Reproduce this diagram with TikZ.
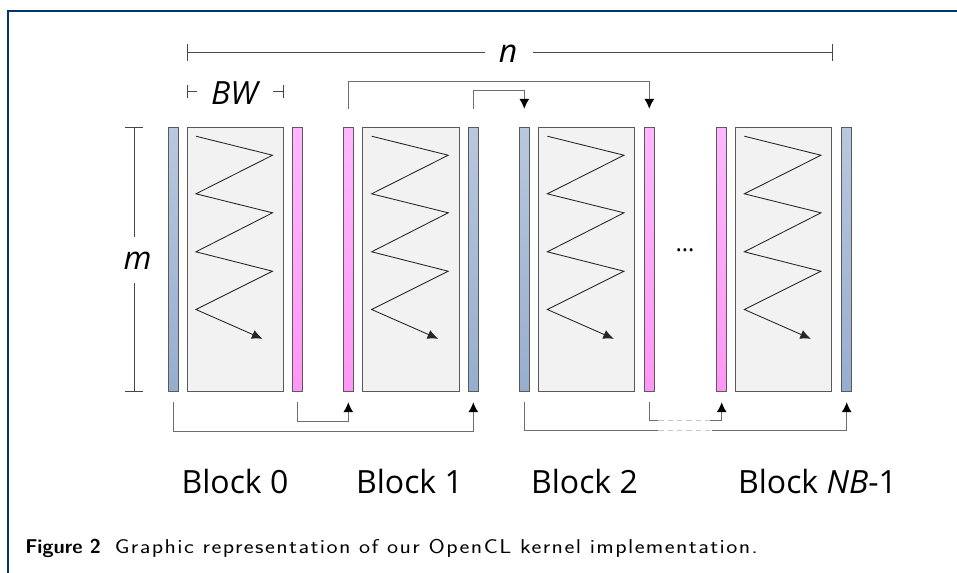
\documentclass[tikz,border=0pt]{standalone}
\usepackage{fontspec}
\setmainfont{Open Sans}
\newfontfamily\captionfont[LetterSpace=6]{Latin Modern Sans}
\usetikzlibrary{arrows.meta}
\definecolor{framec}{RGB}{0,56,107}
\definecolor{blueTop}{RGB}{184,200,222}
\definecolor{blueBot}{RGB}{150,174,206}
\definecolor{pinkTop}{RGB}{255,184,255}
\definecolor{pinkBot}{RGB}{255,150,245}
\definecolor{panel}{RGB}{242,242,242}
\definecolor{edge}{RGB}{90,90,90}
\definecolor{connc}{RGB}{110,110,110}
\definecolor{dashc}{RGB}{200,200,200}
\definecolor{dimc}{RGB}{70,70,70}

\tikzset{
  bar/.style={draw=edge, line width=0.75pt, inner sep=0pt,
    minimum width=7.5pt, minimum height=198.5pt},
  bluebar/.style={bar, top color=blueTop, bottom color=blueBot},
  pinkbar/.style={bar, top color=pinkTop, bottom color=pinkBot},
  panelbox/.style={draw=edge, line width=0.75pt, fill=panel, inner sep=0pt,
    minimum width=72.4pt, minimum height=198.5pt},
  zigline/.style={draw=black!85, line width=0.65pt,
    -{Latex[length=8pt,width=7pt]}},
  conn/.style={draw=connc, line width=0.75pt},
  connarrow/.style={conn, -{Latex[length=7.5pt,width=7.5pt,color=black]}},
  dashconn/.style={draw=dashc, line width=0.75pt, dash pattern=on 4pt off 3pt},
  dimline/.style={draw=dimc, line width=0.75pt},
  lbl/.style={inner sep=0pt, font=\fontsize{24}{28}\selectfont},
}

% zigzag traversal inside a block panel
\newcommand\zigpath[1]{%
  \draw[zigline] ([shift={(9.4,9.4)}]#1.north west)
    -- ++(76.6,19) -- ++(-76.6,38.6) -- ++(76.6,19) -- ++(-76.6,39)
    -- ++(76.6,19.4) -- ++(-76.6,38.3) -- ++(66.6,29.3);}

\begin{document}
\begin{tikzpicture}[x=0.75pt, y=-0.75pt]
\useasboundingbox (0,0) rectangle (957,573);

% frame
\draw[framec, line width=1.5pt] (8,573) -- (8,11) -- (957,11);

% blocks
\node[bluebar]  (b0) at (173,259.65) {};
\node[panelbox] (r0) at (235.3,259.65) {};
\node[pinkbar]  (p0) at (297.7,259.65) {};

\node[pinkbar]  (p1) at (348.3,259.65) {};
\node[panelbox] (r1) at (411,259.65) {};
\node[bluebar]  (b1) at (473.3,259.65) {};

\node[bluebar]  (b2) at (524.3,259.65) {};
\node[panelbox] (r2) at (586.7,259.65) {};
\node[pinkbar]  (p2) at (649.3,259.65) {};

\node[pinkbar]  (p3) at (721.7,259.65) {};
\node[panelbox] (r3) at (783.7,259.65) {};
\node[bluebar]  (b3) at (846.7,259.65) {};

\zigpath{r0}
\zigpath{r1}
\zigpath{r2}
\zigpath{r3}

\node[lbl] (dots) at (685,250.7) {\fontsize{18}{20}\selectfont …};

% top transfers
\draw[connarrow] ([yshift=13.5pt]p1.north) -- ++(0,-27.6) -| ([yshift=13.5pt]p2.north);
\draw[connarrow] ([yshift=13.5pt]b1.north) -- ++(0,-18.3) -| ([yshift=13.5pt]b2.north);

% bottom transfers
\draw[connarrow] ([yshift=-7.3pt]p0.south) -- ++(0,19.3) -| ([yshift=-7.3pt]p1.south);
\draw[connarrow] ([yshift=-7.3pt]b0.south) -- ++(0,29.3) -| ([yshift=-7.3pt]b1.south);

\coordinate (du1) at (658.3,421);
\coordinate (du2) at (710,421);
\coordinate (dl1) at (658.3,431);
\coordinate (dl2) at (711.7,431);
\draw[conn] ([yshift=-7.3pt]p2.south) |- (du1);
\draw[dashconn] (du1) -- (du2);
\draw[connarrow] (du2) -| ([yshift=-7.3pt]p3.south);
\draw[conn] ([yshift=-7.3pt]b2.south) |- (dl1);
\draw[dashconn] (dl1) -- (dl2);
\draw[connarrow] (dl2) -| ([yshift=-7.3pt]b3.south);

% dimension n
\node[lbl] (nlab) at (508,54.2) {\textit{n}};
\coordinate (nl) at (187.3,52.7);
\coordinate (nr) at (832.3,52.7);
\draw[dimline] (nl) -- (485,52.7);
\draw[dimline] (533.3,52.7) -- (nr);
\draw[dimline] ([yshift=6.5pt]nl) -- ([yshift=-6.5pt]nl);
\draw[dimline] ([yshift=6.5pt]nr) -- ([yshift=-6.5pt]nr);

% dimension BW
\node[lbl] (bwlab) at (235.8,93.3) {\textit{BW}};
\coordinate (bwl) at (187.3,91.7);
\coordinate (bwr) at (283.3,91.7);
\draw[dimline] (bwl) -- ++(9.4,0);
\draw[dimline] (bwr) -- ++(-10,0);
\draw[dimline] ([yshift=5pt]bwl) -- ([yshift=-5pt]bwl);
\draw[dimline] ([yshift=5pt]bwr) -- ([yshift=-5pt]bwr);

% dimension m
\node[lbl] (mlab) at (137.5,260.5) {\textit{m}};
\coordinate (mt) at (134,127.3);
\coordinate (mb) at (134,392);
\draw[dimline] (mt) -- (134,236.7);
\draw[dimline] (134,282.7) -- (mb);
\draw[dimline] ([xshift=-6.8pt]mt) -- ([xshift=6.8pt]mt);
\draw[dimline] ([xshift=-6.8pt]mb) -- ([xshift=6.8pt]mb);

% block labels
\node[lbl, anchor=base] (l0) at (235,493.3) {Block 0};
\node[lbl, anchor=base] (l1) at (409.5,493.3) {Block 1};
\node[lbl, anchor=base] (l2) at (584.5,493.3) {Block 2};
\node[lbl, anchor=base] (l3) at (817.5,493.3) {Block \textit{NB}-1};

% caption
\node[anchor=base west, inner sep=0pt, font=\fontsize{15}{18}\selectfont]
  (cap) at (25,553.3) {\sffamily\bfseries Figure 2\hspace{0.7em}\scalebox{1.175}[1]{\captionfont\mdseries Graphic representation of our OpenCL kernel implementation.}};
\end{tikzpicture}
\end{document}
